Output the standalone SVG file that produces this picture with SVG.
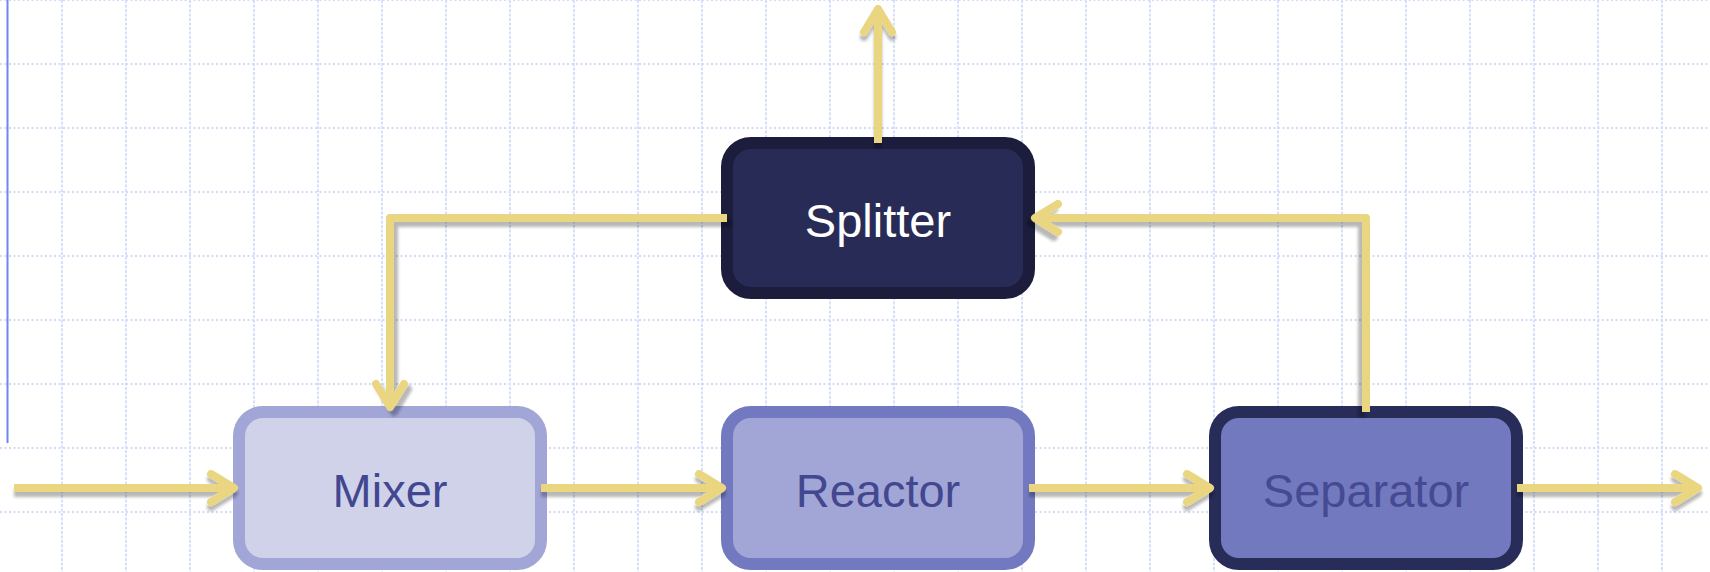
<svg xmlns="http://www.w3.org/2000/svg" width="1710" height="572" viewBox="0 0 1710 572">
  <defs>
    <style>
      .grid-h { stroke: #cfdbf8; stroke-width: 2; stroke-dasharray: 2 2.5; fill: none; }
      .grid-v { stroke: #d6e0f9; stroke-width: 2; stroke-dasharray: 3 1.5; fill: none; }
      .node rect { stroke-width: 12; }
      .node text { font-family: "Liberation Sans", Arial, sans-serif; font-size: 47px; text-anchor: middle; }
      .flow { fill: none; stroke: #ead680; stroke-width: 8; }
      .flow .line { stroke-linecap: butt; stroke-linejoin: round; }
      .flow .head { stroke-linecap: round; stroke-linejoin: round; }
    </style>
    <filter id="shadowDown" x="-20%" y="-50%" width="140%" height="200%">
      <feDropShadow dx="0" dy="5" stdDeviation="1.6" flood-color="#000" flood-opacity="0.28"/>
    </filter>
    <filter id="shadowDownRight" x="-20%" y="-20%" width="140%" height="140%">
      <feDropShadow dx="4" dy="5" stdDeviation="1.6" flood-color="#000" flood-opacity="0.28"/>
    </filter>
    <filter id="shadowDownLeft" x="-20%" y="-20%" width="140%" height="140%">
      <feDropShadow dx="-4" dy="5" stdDeviation="1.6" flood-color="#000" flood-opacity="0.28"/>
    </filter>
  </defs>

  <rect x="0" y="0" width="1710" height="572" fill="#ffffff"/>

  <!-- background grid, 64px cells -->
  <g id="grid">
    <path class="grid-h" d="M0 0H1710M0 64H1710M0 128H1710M0 192H1710M0 256H1710M0 320H1710M0 384H1710M0 448H1710M0 512H1710"/>
    <path class="grid-v" d="M62 0V572M126 0V572M190 0V572M254 0V572M318 0V572M382 0V572M446 0V572M510 0V572M574 0V572M638 0V572M702 0V572M766 0V572M830 0V572M894 0V572M958 0V572M1022 0V572M1086 0V572M1150 0V572M1214 0V572M1278 0V572M1342 0V572M1406 0V572M1470 0V572M1534 0V572M1598 0V572M1662 0V572"/>
    <line x1="7.5" y1="0" x2="7.5" y2="443" stroke="#6f86ee" stroke-width="2"/>
  </g>

  <!-- process units -->
  <g id="mixer" class="node">
    <rect x="239" y="412" width="302" height="152" rx="24" fill="#d0d2ea" stroke="#a2a6d6"/>
    <text x="390" y="506.5" fill="#42478f">Mixer</text>
  </g>
  <g id="reactor" class="node">
    <rect x="727" y="412" width="302" height="152" rx="24" fill="#a2a6d6" stroke="#7279c0"/>
    <text x="878" y="506.5" fill="#42478f">Reactor</text>
  </g>
  <g id="separator" class="node">
    <rect x="1215" y="412" width="302" height="152" rx="24" fill="#7279bf" stroke="#282c58"/>
    <text x="1366" y="506.5" fill="#454a93">Separator</text>
  </g>
  <g id="splitter" class="node">
    <rect x="727" y="143" width="302" height="150" rx="24" fill="#272b56" stroke="#1c1d3c"/>
    <text x="878" y="236.5" fill="#ffffff">Splitter</text>
  </g>

  <!-- streams -->
  <g id="connectors" class="flow">
    <g id="feed" filter="url(#shadowDown)">
      <path class="line" d="M14 488H234"/>
      <path class="head" d="M211 474L234 488L211 502"/>
    </g>
    <g id="mixer-reactor" filter="url(#shadowDown)">
      <path class="line" d="M541 488H722"/>
      <path class="head" d="M699 474L722 488L699 502"/>
    </g>
    <g id="reactor-separator" filter="url(#shadowDown)">
      <path class="line" d="M1029 488H1210"/>
      <path class="head" d="M1187 474L1210 488L1187 502"/>
    </g>
    <g id="product" filter="url(#shadowDown)">
      <path class="line" d="M1517 488H1698"/>
      <path class="head" d="M1675 474L1698 488L1675 502"/>
    </g>
    <g id="purge" filter="url(#shadowDown)">
      <path class="line" d="M878 143V9"/>
      <path class="head" d="M864 32L878 9L892 32"/>
    </g>
    <g id="recycle" filter="url(#shadowDownRight)">
      <path class="line" d="M727 218H390V407"/>
      <path class="head" d="M376 384L390 407L404 384"/>
    </g>
    <g id="overhead" filter="url(#shadowDownLeft)">
      <path class="line" d="M1366 412V218H1035"/>
      <path class="head" d="M1058 204L1035 218L1058 232"/>
    </g>
  </g>
</svg>
